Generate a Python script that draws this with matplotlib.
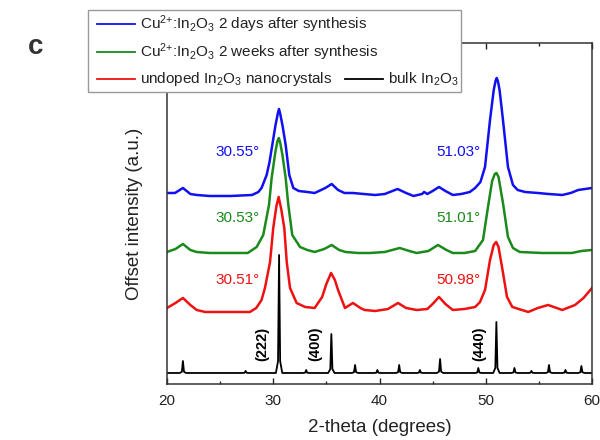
import matplotlib
matplotlib.use('Agg')
import matplotlib.pyplot as plt
from matplotlib.patches import Rectangle
from matplotlib.lines import Line2D
from matplotlib.ticker import MultipleLocator

plt.rcParams['font.family'] = ['Liberation Sans', 'DejaVu Sans']
plt.rcParams['mathtext.default'] = 'regular'

# 2-theta (degrees) and offset intensity (a.u.)
deg_blue = [20.0, 20.75, 21.5, 22.2, 22.8, 24.0, 26.0, 28.0, 28.6, 28.9, 29.38, 29.65, 29.91, 30.2, 30.42,
            30.54, 30.66, 30.88, 31.17, 31.51, 31.89, 32.4, 33.2, 33.9, 34.9, 35.5, 36.1, 36.7, 37.5, 38.5,
            39.6, 40.5, 41.7, 42.5, 43.2, 44.0, 44.2, 44.5, 45.0, 45.6, 46.2, 46.9, 47.7, 48.5, 49.0,
            49.5, 49.93, 50.4, 50.75, 50.92, 51.03, 51.14, 51.3, 51.62, 52.09, 52.56, 53.0, 53.7, 54.9, 55.9,
            57.2, 58.0, 58.7, 60.0]
blue = [191, 191, 196, 190, 189, 188, 188, 189, 192, 196, 209, 222, 239, 258, 270,
        275, 270, 258, 239, 209, 196, 193, 192, 191, 196, 200, 194, 191, 191, 190,
        189, 190, 195, 191, 188, 190, 192, 190, 193, 197, 193, 189, 190, 192, 196,
        202, 217, 264, 294, 303, 306, 303, 294, 264, 217, 199, 194, 192, 191, 190,
        189, 191, 194, 196]

deg_green = [20.0, 20.8, 21.5, 22.2, 22.8, 24.0, 26.0, 27.6, 28.44, 29.06, 29.6, 29.85, 30.2, 30.4, 30.53,
             30.66, 30.85, 31.17, 31.42, 31.79, 32.52, 33.2, 33.9, 34.8, 35.5, 36.2, 36.8, 38.0, 39.1, 40.5,
             41.9, 42.8, 43.5, 44.6, 45.5, 46.3, 46.9, 48.0, 49.0, 49.74, 50.21, 50.6, 50.85, 51.01, 51.2,
             51.62, 52.09, 52.56, 53.2, 55.3, 57.0, 58.1, 59.0, 60.0]
green = [132, 135, 140, 134, 132, 131, 131, 131, 137, 149, 179, 206, 232, 243, 246,
         241, 230, 206, 179, 149, 137, 134, 132, 135, 139, 134, 132, 131, 131, 132,
         136, 133, 131, 133, 139, 134, 131, 131, 133, 144, 177, 203, 210, 211, 207,
         181, 147, 136, 132, 131, 131, 131, 133, 134]

deg_red = [20.0, 20.8, 21.5, 22.2, 22.8, 23.6, 25.9, 27.8, 28.4, 28.9, 29.22, 29.7, 30.0, 30.3, 30.51,
           30.75, 31.04, 31.27, 31.58, 32.2, 33.0, 33.9, 34.6, 35.0, 35.44, 35.8, 36.1, 36.75, 37.5, 38.2,
           38.6, 39.6, 40.8, 41.74, 42.5, 43.5, 44.5, 45.0, 45.6, 46.2, 46.9, 48.0, 49.0, 49.46, 49.93,
           50.4, 50.75, 50.98, 51.2, 51.53, 52.0, 52.5, 54.0, 54.9, 55.86, 57.2, 58.4, 59.2, 59.6, 60.0]
red = [76, 81, 86, 79, 74, 72, 72, 72, 76, 84, 96, 122, 156, 178, 187,
       175, 156, 122, 96, 81, 77, 76, 87, 100, 111, 104, 94, 76, 81, 76,
       74, 73, 75, 81, 76, 74, 75, 80, 87, 80, 74, 75, 77, 82, 94,
       124, 139, 142, 137, 117, 87, 77, 72, 76, 79, 74, 79, 86, 91, 96]

# bulk reference pattern: peak positions and peak tops, on a flat baseline
bulk_pos = [21.5, 27.4, 30.55, 33.1, 35.47, 37.7, 39.8, 41.85, 43.8, 45.7, 49.3, 51.0, 52.7, 54.3, 55.95, 57.5, 59.0]
bulk_top = [23, 13, 129, 14, 50, 19, 14, 19, 14, 25, 16, 62, 16, 13, 19, 14, 18]
bulk_base = 11

peak_labels = ['30.55°', '51.03°', '30.53°', '51.01°', '30.51°', '50.98°']
hkl = ['(222)', '(400)', '(440)']
hkl_pos = [28.94, 33.93, 49.36]

c_blue = '#1010f0'
c_green = '#1a8a1a'
c_red = '#ee1111'

# stick-like bulk curve
bx = [20.0]
by = [bulk_base]
for p, h in zip(bulk_pos, bulk_top):
    bx += [p - 0.3, p - 0.1, p, p + 0.1, p + 0.3]
    by += [bulk_base, bulk_base + 0.1 * (h - bulk_base), h, bulk_base + 0.1 * (h - bulk_base), bulk_base]
bx.append(60.0)
by.append(bulk_base)

fig = plt.figure(figsize=(6, 4.4), dpi=100)
ax = fig.add_axes([0.2783, 0.1273, 0.7084, 0.775])

ax.plot(bx, by, color='black', lw=1.3)
ax.plot(deg_red, red, color=c_red, lw=1.8)
ax.plot(deg_green, green, color=c_green, lw=1.8)
ax.plot(deg_blue, blue, color=c_blue, lw=1.8)

ax.set_xlim(20, 60)
ax.set_ylim(0, 341)
ax.xaxis.set_major_locator(MultipleLocator(10))
ax.xaxis.set_minor_locator(MultipleLocator(5))
ax.tick_params(axis='x', which='both', direction='in', top=True, labelsize=11, colors='#222222', pad=7)
ax.tick_params(axis='x', which='major', length=4.3, width=1)
ax.tick_params(axis='x', which='minor', length=2.4, width=1)
ax.set_yticks([])
for s in ax.spines.values():
    s.set_color('#333333')
    s.set_linewidth(1.1)

ax.set_xlabel('2-theta (degrees)', fontsize=13.5, labelpad=8, color='#222222')
ax.set_ylabel('Offset intensity (a.u.)', fontsize=13.5, labelpad=17, color='#222222')

# peak position labels
lab_x = [28.75, 49.46]
lab_y = [232, 166, 104]
cols = [c_blue, c_green, c_red]
for i in range(3):
    for j in range(2):
        ax.text(lab_x[j], lab_y[i], peak_labels[2 * i + j], color=cols[i], fontsize=11,
                ha='right', va='center')

for t, x in zip(hkl, hkl_pos):
    ax.text(x, 40, t, rotation=90, fontsize=10.5, fontweight='bold', ha='center', va='center')

# legend drawn by hand (three rows, bulk entry shares the last row)
def fx(px):
    return px / 600.0

def fy(py):
    return 1 - py / 440.0

fig.patches.append(Rectangle((fx(88), fy(92)), fx(461) - fx(88), fy(10) - fy(92), transform=fig.transFigure,
                             facecolor='white', edgecolor='#999999', lw=1, zorder=5))
rows = [24, 52, 79]
texts = [r'Cu$^{2{+}}$:In$_2$O$_3$ 2 days after synthesis',
         r'Cu$^{2{+}}$:In$_2$O$_3$ 2 weeks after synthesis',
         r'undoped In$_2$O$_3$ nanocrystals']
for r, t, c in zip(rows, texts, cols):
    fig.lines.append(Line2D([fx(97), fx(135)], [fy(r), fy(r)], transform=fig.transFigure, color=c, lw=1.3, zorder=6))
    fig.text(fx(140), fy(r), t, fontsize=11, va='center', ha='left', color='#222222', zorder=7)
fig.lines.append(Line2D([fx(345), fx(383)], [fy(79), fy(79)], transform=fig.transFigure, color='black', lw=1.3, zorder=6))
fig.text(fx(388), fy(79), r'bulk In$_2$O$_3$', fontsize=11, va='center', ha='left', color='#222222', zorder=7)

fig.text(fx(36), fy(47), 'c', fontsize=20, fontweight='bold', color='#333333', ha='center', va='center')

fig.savefig('out.png', dpi=100)
